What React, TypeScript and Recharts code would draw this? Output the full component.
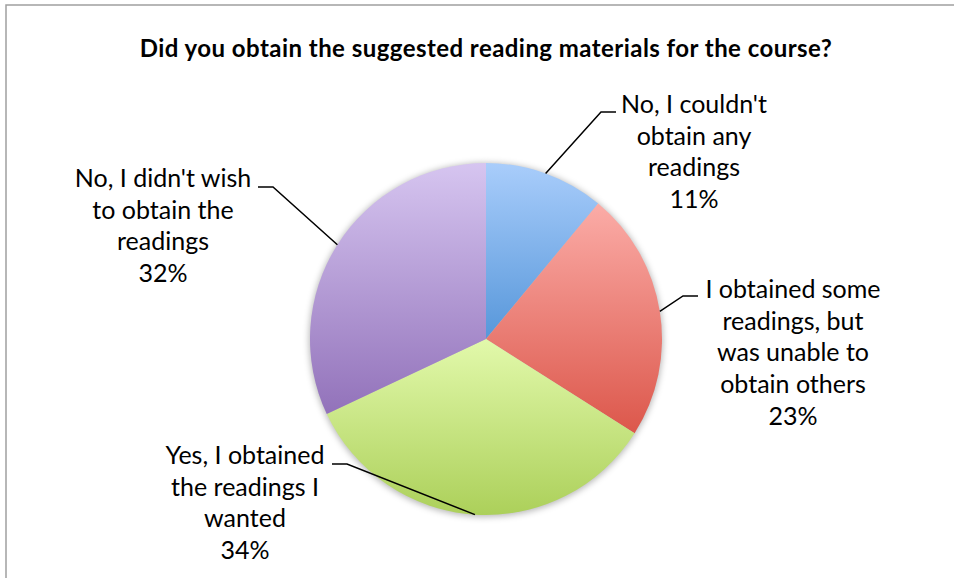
import { Cell, Pie, PieChart } from "recharts";

// survey answers, clockwise from 12 o'clock
const categories = [
	"No, I couldn't obtain any readings",
	"I obtained some readings, but was unable to obtain others",
	"Yes, I obtained the readings I wanted",
	"No, I didn't wish to obtain the readings",
];
const shares = [11, 23, 34, 32];
// how Excel wrapped each label
const labelLines = [
	["No, I couldn't", "obtain any", "readings"],
	["I obtained some", "readings, but", "was unable to", "obtain others"],
	["Yes, I obtained", "the readings I", "wanted"],
	["No, I didn't wish", "to obtain the", "readings"],
];
const gradients = [
	["#a9cdfb", "#5797da"],
	["#fbaca7", "#dc574b"],
	["#e2f9ab", "#acd05a"],
	["#d6c5f0", "#9272ba"],
];

const TITLE = "Did you obtain the suggested reading materials for the course?";
const FONT = "Lato, 'Open Sans', sans-serif";
const W = 954;
const H = 578;

// label placement relative to the pie centre: text anchor, elbow x, end of leader
const labelPos = [
	{ tx: 208, ty: -226, bx: 115, ex: 130, ey: -227 },
	{ tx: 307, ty: -41, bx: 197, ex: 212, ey: -43 },
	{ tx: -241, ty: 125, bx: -139, ex: -154, ey: 125 },
	{ tx: -323, ty: -152, bx: -213, ex: -228, ey: -152 },
];
const LINE_H = 31.7;

const data = categories.map((name, i) => ({ name, value: shares[i] }));

const RAD = Math.PI / 180;

function renderLabel(props: any) {
	const { cx, cy, midAngle, outerRadius, index, value } = props;
	const p = labelPos[index];
	const sx = cx + outerRadius * Math.cos(-midAngle * RAD);
	const sy = cy + outerRadius * Math.sin(-midAngle * RAD);
	const lines = [...labelLines[index], `${value}%`];
	return (
		<g key={`lbl-${index}`}>
			<polyline
				points={`${sx},${sy} ${cx + p.bx},${cy + p.ey} ${cx + p.ex},${cy + p.ey}`}
				fill="none"
				stroke="#000"
				strokeWidth={1.5}
			/>
			<text x={cx + p.tx} y={cy + p.ty} textAnchor="middle" fontFamily={FONT} fontSize={25} fill="#000">
				{lines.map((l, j) => (
					<tspan key={j} x={cx + p.tx} dy={j === 0 ? 0 : LINE_H}>
						{l}
					</tspan>
				))}
			</text>
		</g>
	);
}

export default function App() {
	return (
		<div style={{ position: "absolute", left: 0, top: 0, width: W, height: H, background: "#fff" }}>
			<PieChart width={W} height={H} margin={{ top: 0, right: 0, bottom: 0, left: 0 }}>
				<defs>
					{gradients.map(([a, b], i) => (
						<linearGradient key={i} id={`slice-${i}`} x1="0" y1="0" x2="0" y2="1">
							<stop offset="0%" stopColor={a} />
							<stop offset="100%" stopColor={b} />
						</linearGradient>
					))}
					<filter id="pie-shadow" x="-20%" y="-20%" width="140%" height="140%">
						<feGaussianBlur stdDeviation={3} />
					</filter>
				</defs>
				{/* soft shadow underneath */}
				<Pie
					data={data}
					dataKey="value"
					cx={486}
					cy={340}
					outerRadius={177}
					startAngle={90}
					endAngle={-270}
					stroke="none"
					fill="#000"
					fillOpacity={0.28}
					style={{ filter: "url(#pie-shadow)" }}
					isAnimationActive={false}
					label={false}
					labelLine={false}
				/>
				<Pie
					data={data}
					dataKey="value"
					cx={486}
					cy={339}
					outerRadius={176}
					startAngle={90}
					endAngle={-270}
					stroke="none"
					isAnimationActive={false}
					label={renderLabel}
					labelLine={false}
				>
					{data.map((d, i) => (
						<Cell key={d.name} fill={`url(#slice-${i})`} />
					))}
				</Pie>
			</PieChart>
			<svg width={W} height={H} style={{ position: "absolute", left: 0, top: 0, pointerEvents: "none" }}>
				<path d={`M6,${H} L6,5 L${W},5`} fill="none" stroke="#a0a0a0" strokeWidth={1.5} />
				<text
					x={486}
					y={57}
					textAnchor="middle"
					fontFamily={FONT}
					fontWeight="bold"
					fontSize={24}
					letterSpacing={0.45}
					fill="#000"
				>
					{TITLE}
				</text>
			</svg>
		</div>
	);
}
